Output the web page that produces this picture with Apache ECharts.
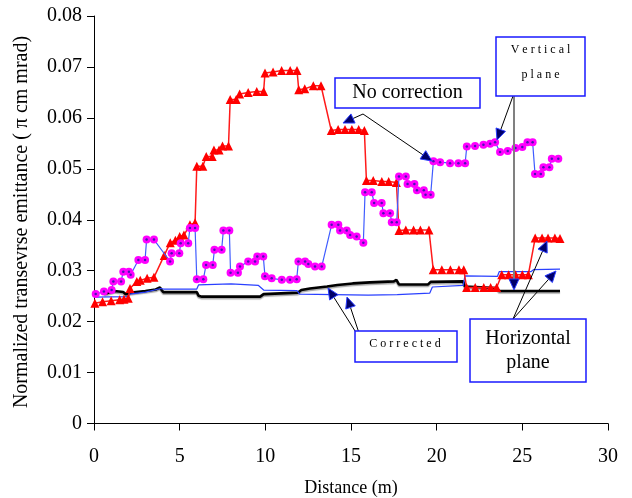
<!DOCTYPE html>
<html>
<head>
<meta charset="utf-8">
<script src="https://cdn.jsdelivr.net/npm/echarts@6/dist/echarts.min.js"></script>
<style>
  html, body { margin: 0; padding: 0; background: #fff; }
  #chart { width: 632px; height: 498px; }
</style>
</head>
<body>
<div id="chart"></div>
<script>
// Horizontal plane, no correction (red triangles)
const hNoCorrX = [0.05, 0.5, 1.0, 1.5, 1.75, 2.0, 2.1, 2.5, 2.7, 3.1, 3.5, 4.1, 4.45, 4.75, 5.0, 5.25, 5.6, 5.9,
  6.0, 6.35, 6.55, 6.9, 7.0, 7.3, 7.5, 7.85, 7.95, 8.3, 8.5, 9.0, 9.5, 9.9,
  9.98, 10.45, 10.95, 11.45, 11.85, 11.95, 12.3, 12.8, 13.25,
  13.85, 14.25, 14.65, 15.05, 15.45, 15.78, 15.9, 16.3, 16.8, 17.2, 17.65,
  17.8, 18.2, 18.65, 19.05, 19.55, 19.8, 20.3, 20.8, 21.3, 21.58,
  21.75, 22.25, 22.75, 23.15, 23.5, 23.8, 24.2, 24.6, 25.0, 25.35,
  25.75, 26.15, 26.5, 26.9, 27.2];
const hNoCorrY = [0.0236, 0.0239, 0.0241, 0.0243, 0.0244, 0.0246, 0.0265, 0.0279, 0.0281, 0.0285, 0.0287, 0.033, 0.0355, 0.036, 0.0367, 0.037, 0.039, 0.0394,
  0.0505, 0.0505, 0.0524, 0.0524, 0.0537, 0.0537, 0.0545, 0.0545, 0.0636, 0.0636, 0.0647, 0.065, 0.0652, 0.0652,
  0.0688, 0.069, 0.0693, 0.0693, 0.0693, 0.0655, 0.0657, 0.0663, 0.0663,
  0.0575, 0.0577, 0.0577, 0.0577, 0.0577, 0.0575, 0.0477, 0.0477, 0.0475, 0.0475, 0.0473,
  0.0379, 0.038, 0.038, 0.038, 0.038, 0.0302, 0.0302, 0.0302, 0.0302, 0.0302,
  0.0267, 0.0267, 0.0267, 0.0267, 0.0267, 0.0292, 0.0292, 0.0292, 0.0292, 0.0292,
  0.0364, 0.0364, 0.0364, 0.0364, 0.0363];

// Vertical plane, no correction (magenta markers)
const vNoCorrX = [0.1, 0.58, 1.03, 1.13, 1.58, 1.71, 2.04, 2.14, 2.59, 2.98, 3.07, 3.5, 4.44, 4.53, 4.98, 5.06, 5.5, 5.6, 5.9,
  6.0, 6.38, 6.54, 6.93, 7.03, 7.45, 7.55, 7.9, 7.97, 8.4, 8.52, 9.0, 9.4, 9.53, 9.88,
  9.98, 10.37, 10.96, 11.44, 11.83, 11.93, 12.32, 12.51, 12.9, 13.29,
  13.87, 14.26, 14.36, 14.75, 14.95, 15.33, 15.72,
  15.82, 16.21, 16.35, 16.79, 16.89, 17.28, 17.38, 17.67,
  17.8, 18.2, 18.3, 18.7, 18.85, 19.25, 19.35, 19.65,
  19.81, 20.2, 20.78, 21.27, 21.66, 21.76, 22.24, 22.73, 23.12, 23.41,
  23.7, 24.15, 24.6, 25.0, 25.3, 25.6, 25.74, 26.08, 26.23, 26.58, 26.72, 27.1];
const vNoCorrY = [0.0254, 0.0259, 0.0262, 0.0279, 0.0279, 0.0298, 0.0298, 0.0292, 0.0321, 0.0321, 0.0361, 0.0361, 0.0318, 0.0334, 0.0334, 0.0354, 0.0354, 0.0384, 0.0384,
  0.0283, 0.0283, 0.0311, 0.0311, 0.0341, 0.0341, 0.0379, 0.0379, 0.0296, 0.0296, 0.0308, 0.0318, 0.0318, 0.0328, 0.0328,
  0.0289, 0.0285, 0.0282, 0.0282, 0.0283, 0.0318, 0.0318, 0.0313, 0.0308, 0.0308,
  0.039, 0.039, 0.0379, 0.0379, 0.037, 0.0367, 0.0355,
  0.0454, 0.0454, 0.0433, 0.0433, 0.0413, 0.0413, 0.0395, 0.0395,
  0.0485, 0.0485, 0.047, 0.047, 0.0458, 0.0458, 0.0449, 0.0449,
  0.0515, 0.0513, 0.0511, 0.0511, 0.0511, 0.0544, 0.0545, 0.0547, 0.0549, 0.0552,
  0.0533, 0.0535, 0.0541, 0.0543, 0.0552, 0.0552, 0.049, 0.049, 0.0503, 0.0503, 0.052, 0.052];

// Horizontal plane, corrected (thick black line)
const hCorrX = [0.6, 1.2, 1.7, 1.85, 2.2, 3.0, 3.6, 3.85, 3.95, 4.05, 6.0, 6.1, 6.3, 9.7, 9.9, 11.9, 12.1, 12.6, 13.6, 14.2, 15.1, 16.1, 17.5, 17.65,
  17.8, 19.5, 19.65, 21.55, 21.65, 23.5, 23.65, 27.2];
const hCorrY = [0.0254, 0.026, 0.0258, 0.0254, 0.0257, 0.026, 0.0263, 0.0267, 0.0262, 0.0258, 0.0258, 0.0251, 0.0249, 0.0249, 0.0254, 0.0257, 0.0262, 0.0265, 0.0269, 0.0272, 0.0275, 0.0277, 0.0279, 0.0282,
  0.0273, 0.0273, 0.0278, 0.0279, 0.0269, 0.0266, 0.026, 0.026];

// Vertical plane, corrected (thin blue line)
const vCorrX = [0.05, 1.9, 2.1, 3.0, 3.9, 4.05, 6.0, 6.1, 8.0, 9.6, 9.9, 11.85, 12.0, 14.0, 16.0, 17.7, 19.6, 19.75, 21.55, 21.65, 23.55, 23.65, 25.5, 25.65, 27.2];
const vCorrY = [0.0248, 0.0249, 0.0254, 0.0258, 0.0265, 0.0264, 0.0264, 0.0272, 0.0274, 0.0271, 0.0262, 0.0261, 0.0254, 0.0253, 0.0252, 0.0253, 0.0256, 0.0268, 0.0271, 0.029, 0.0289, 0.0298, 0.0298, 0.0302, 0.0303];

const xTicks = { min: 0, max: 30, step: 5 };
const yTicks = { min: 0, max: 0.08, step: 0.01 };

const zip = (xs, ys) => xs.map((x, i) => [x, ys[i]]);
const serif = '"Liberation Serif", "DejaVu Serif", serif';

// Arrow: thin line plus filled triangular head at the tip
function arrow(x1, y1, x2, y2, opts) {
  opts = opts || {};
  const len = opts.len || 11, half = opts.half || 5;
  const dx = x2 - x1, dy = y2 - y1, d = Math.hypot(dx, dy);
  const ux = dx / d, uy = dy / d;
  const bx = x2 - ux * len, by = y2 - uy * len;
  return [
    { type: 'line', z: 100, shape: { x1: x1, y1: y1, x2: bx, y2: by },
      style: { stroke: opts.lineColor || '#000', lineWidth: opts.lineWidth || 1 } },
    { type: 'polygon', z: 101, shape: { points: [[x2, y2], [bx - uy * half, by + ux * half], [bx + uy * half, by - ux * half]] },
      style: { fill: '#00006a', stroke: '#2a3cff', lineWidth: 1 } }
  ];
}

function box(x, y, w, h) {
  return { type: 'rect', z: 102, shape: { x: x, y: y, width: w, height: h },
    style: { fill: '#fff', stroke: '#1a1aff', lineWidth: 1.5 } };
}
function label(x, y, text, size) {
  return { type: 'text', z: 103, x: x, y: y,
    style: { text: text, fill: '#000', font: size + 'px ' + serif, textAlign: 'center', textVerticalAlign: 'middle' } };
}

const graphics = [].concat(
  // y-axis title, reading bottom to top
  [{ type: 'text', z: 103, x: 22, y: 222, rotation: Math.PI / 2,
     style: { text: 'Normalized transevrse emittance ( π cm mrad)', fill: '#000', font: '20px ' + serif,
              textAlign: 'center', textVerticalAlign: 'middle' } }],
  // "No correction" callout
  arrow(363, 114, 343, 123),
  arrow(363, 114, 432, 161),
  [box(335, 78, 145, 30), label(407.5, 93, 'No correction', 20)],
  // "Vertical plane" callout
  arrow(513, 96, 497, 140),
  arrow(514, 96, 514, 290, { lineColor: '#808080', lineWidth: 2 }),
  [box(496, 37, 89, 59), label(540.5, 50, 'V e r t i c a l', 12), label(540.5, 75, 'p l a n e', 12)],
  // "Corrected" callout
  arrow(362, 342, 328, 288),
  arrow(362, 342, 347, 297),
  [box(355, 331, 102, 31), label(405, 344, 'C o r r e c t e d', 12)],
  // "Horizontal plane" callout
  arrow(513, 319, 547, 241),
  arrow(513, 319, 556, 271),
  [box(470, 319, 116, 63), label(528, 339, 'Horizontal', 20), label(528, 363, 'plane', 20)]
);

const chart = echarts.init(document.getElementById('chart'), null, { renderer: 'canvas' });
chart.setOption({
  animation: false,
  backgroundColor: '#fff',
  grid: { left: 94, top: 16, right: 24, bottom: 74.5, containLabel: false, outerBoundsMode: 'none' },
  xAxis: {
    type: 'value', min: xTicks.min, max: xTicks.max, interval: xTicks.step,
    name: 'Distance (m)', nameLocation: 'middle', nameGap: 56,
    nameTextStyle: { fontFamily: serif, fontSize: 18, color: '#000' },
    axisLine: { onZero: false, lineStyle: { color: '#000', width: 1 } },
    axisTick: { inside: false, length: 7, lineStyle: { color: '#000' } },
    axisLabel: { margin: 23, fontFamily: serif, fontSize: 20, color: '#000' },
    splitLine: { show: false }
  },
  yAxis: {
    type: 'value', min: yTicks.min, max: yTicks.max, interval: yTicks.step,
    axisLine: { show: true, onZero: false, lineStyle: { color: '#000', width: 1 } },
    axisTick: { show: true, inside: false, length: 7, lineStyle: { color: '#000' } },
    axisLabel: { margin: 12, fontFamily: serif, fontSize: 20, color: '#000',
      formatter: v => (Math.round(v * 100) / 100).toString() },
    splitLine: { show: false }
  },
  series: [
    {
      name: 'Horizontal corrected', type: 'line', data: zip(hCorrX, hCorrY), showSymbol: false,
      lineStyle: { color: '#000', width: 2.6, shadowColor: 'rgba(0,0,0,0.35)', shadowOffsetY: 1.5, shadowBlur: 1 },
      z: 3
    },
    {
      name: 'Vertical corrected', type: 'line', data: zip(vCorrX, vCorrY), showSymbol: false,
      lineStyle: { color: '#2a40ff', width: 1.2 }, z: 4
    },
    {
      name: 'Horizontal no correction', type: 'line', data: zip(hNoCorrX, hNoCorrY),
      symbol: 'triangle', symbolSize: 9,
      itemStyle: { color: '#ff0000' }, lineStyle: { color: '#ff1a1a', width: 1.5 }, z: 5
    },
    {
      name: 'Vertical no correction', type: 'line', data: zip(vNoCorrX, vNoCorrY),
      symbol: 'circle', symbolSize: 8,
      itemStyle: { color: '#ff00ff' }, lineStyle: { color: '#3f5cff', width: 1.2 }, z: 6
    },
    {
      name: 'Vertical no correction centres', type: 'scatter', data: zip(vNoCorrX, vNoCorrY),
      symbol: 'circle', symbolSize: 2.5, itemStyle: { color: '#1a1aa0' }, z: 7, silent: true
    }
  ],
  graphic: graphics
});
</script>
</body>
</html>
